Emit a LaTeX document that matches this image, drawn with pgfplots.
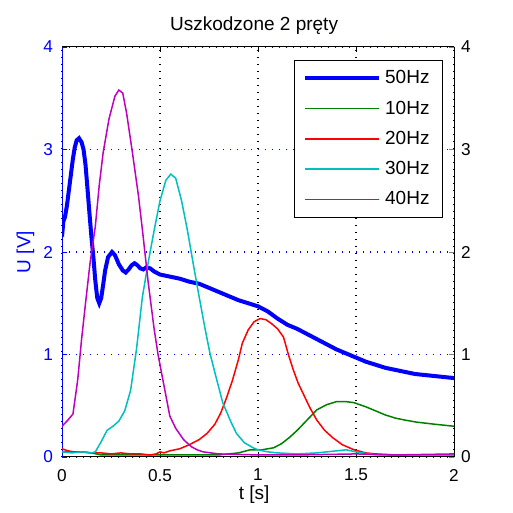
\documentclass[border=0pt]{standalone}
\usepackage{pgfplots}
\pgfplotsset{compat=1.18}
\usepackage{fontspec}
\setmainfont{Liberation Sans}
\definecolor{mgreen}{rgb}{0,0.5,0}
\definecolor{mcyan}{rgb}{0,0.75,0.75}
\definecolor{mmagenta}{rgb}{0.75,0,0.75}
\begin{document}
\begin{tikzpicture}
\begin{axis}[
  name=main, at={(0,0)}, anchor=south west,
  scale only axis, width=196pt, height=205pt,
  xmin=0, xmax=2, ymin=0, ymax=4,
  xtick={0,0.5,1,1.5,2}, ytick={0,1,2,3,4},
  xticklabels={0,0.5,1,1.5,2},
  axis x line*=box, axis y line*=left,
  tick align=inside,
  major tick length=2.5pt,
  axis line style={line width=0.5pt},
  y axis line style={blue},
  ytick style={blue},
  xtick style={black},
  /pgf/number format/assume math mode=true,
  ticklabel style={font=\fontsize{8.6}{10}\selectfont},
  yticklabel style={blue, xshift=-1pt},
  xticklabel style={yshift=-2.5pt},
  xmajorgrids, ymajorgrids,
  major x grid style={black, line width=0.6pt, dash pattern=on 0.6pt off 2.9pt},
  major y grid style={blue, line width=0.6pt, dash pattern=on 0.6pt off 2.9pt},
  title={Uszkodzone 2 pręty},
  title style={font=\fontsize{9.5}{11}\selectfont, at={(axis description cs:0.49,1)}, anchor=south, yshift=-3.5pt},
  xlabel={t [s]},
  ylabel={U [V]},
  xlabel style={font=\fontsize{9.5}{11}\selectfont, at={(axis description cs:0.49,-0.092)}, anchor=center},
  ylabel style={font=\fontsize{9.5}{11}\selectfont, blue, at={(axis description cs:-0.093,0.5)}, anchor=center, rotate=0},
  legend style={at={(rel axis cs:0.972,0.968)}, anchor=north east, draw=black, line width=0.5pt,
    font=\fontsize{9.5}{11}\selectfont, row sep=3pt, inner xsep=4.5pt, inner ysep=3pt},
  legend cell align=left,
  legend image code/.code={\draw[#1] (0pt,0.25pt) -- (37pt,0.25pt);},
]
\addplot[blue, line width=2pt] coordinates {
(0,2.15)(0.007,2.3)(0.015,2.34)(0.025,2.45)(0.035,2.6)(0.045,2.75)(0.055,2.9)(0.065,3.02)(0.075,3.09)(0.087,3.11)(0.1,3.07)(0.11,3.0)(0.12,2.85)(0.13,2.62)(0.14,2.38)(0.15,2.15)(0.16,1.95)(0.17,1.72)(0.18,1.55)(0.19,1.5)(0.2,1.55)(0.21,1.68)(0.22,1.82)(0.235,1.95)(0.255,2.0)(0.27,1.97)(0.29,1.88)(0.31,1.82)(0.325,1.8)(0.34,1.83)(0.355,1.87)(0.37,1.89)(0.385,1.87)(0.4,1.84)(0.415,1.83)(0.43,1.85)(0.45,1.84)(0.47,1.81)(0.5,1.78)(0.55,1.76)(0.6,1.74)(0.65,1.71)(0.7,1.69)(0.75,1.65)(0.8,1.61)(0.85,1.57)(0.9,1.53)(0.95,1.5)(1.0,1.47)(1.05,1.42)(1.1,1.35)(1.15,1.29)(1.2,1.25)(1.25,1.2)(1.3,1.15)(1.35,1.1)(1.4,1.05)(1.45,1.01)(1.5,0.97)(1.55,0.93)(1.6,0.9)(1.65,0.87)(1.7,0.85)(1.75,0.83)(1.8,0.81)(1.85,0.8)(1.9,0.79)(1.95,0.78)(2.0,0.77)
};
\addplot[mgreen, line width=0.75pt] coordinates {
(0,0.05)(0.05,0.05)(0.1,0.05)(0.15,0.04)(0.2,0.02)(0.4,0.02)(0.6,0.02)(0.8,0.02)(0.9,0.04)(0.96,0.07)(1.02,0.07)(1.08,0.09)(1.12,0.13)(1.16,0.19)(1.2,0.26)(1.25,0.36)(1.3,0.46)(1.35,0.51)(1.4,0.54)(1.45,0.54)(1.49,0.53)(1.55,0.49)(1.6,0.45)(1.65,0.41)(1.7,0.38)(1.75,0.36)(1.81,0.34)(1.9,0.32)(2.0,0.30)
};
\addplot[red, line width=0.75pt] coordinates {
(0,0.08)(0.03,0.06)(0.06,0.05)(0.1,0.05)(0.15,0.04)(0.2,0.04)(0.25,0.03)(0.3,0.04)(0.35,0.03)(0.4,0.03)(0.45,0.02)(0.48,0.03)(0.5,0.05)(0.52,0.04)(0.55,0.06)(0.6,0.08)(0.65,0.12)(0.7,0.17)(0.74,0.23)(0.78,0.32)(0.81,0.43)(0.84,0.58)(0.87,0.75)(0.9,0.95)(0.92,1.11)(0.95,1.24)(0.98,1.32)(1.01,1.35)(1.04,1.34)(1.07,1.3)(1.1,1.25)(1.13,1.17)(1.155,1.0)(1.18,0.85)(1.205,0.72)(1.23,0.62)(1.265,0.48)(1.3,0.36)(1.34,0.26)(1.38,0.19)(1.43,0.12)(1.49,0.07)(1.55,0.04)(1.6,0.03)(1.7,0.02)(2,0.02)
};
\addplot[mcyan, line width=0.75pt] coordinates {
(0,0.05)(0.05,0.04)(0.1,0.05)(0.15,0.04)(0.17,0.05)(0.2,0.15)(0.23,0.26)(0.26,0.3)(0.29,0.35)(0.32,0.45)(0.35,0.65)(0.38,1.05)(0.41,1.56)(0.44,1.9)(0.47,2.21)(0.5,2.5)(0.53,2.7)(0.555,2.76)(0.58,2.72)(0.61,2.5)(0.64,2.21)(0.67,1.88)(0.7,1.56)(0.73,1.25)(0.755,1.01)(0.79,0.75)(0.82,0.53)(0.86,0.35)(0.89,0.23)(0.93,0.14)(0.975,0.09)(1.0,0.07)(1.05,0.05)(1.1,0.04)(1.2,0.03)(1.3,0.04)(1.4,0.06)(1.45,0.07)(1.5,0.05)(1.6,0.02)(1.7,0.02)(2,0.02)
};
\addplot[mmagenta, line width=0.75pt] coordinates {
(0,0.3)(0.03,0.36)(0.056,0.42)(0.08,0.75)(0.1,1.15)(0.12,1.5)(0.143,1.89)(0.17,2.25)(0.19,2.65)(0.21,2.97)(0.24,3.3)(0.27,3.52)(0.29,3.58)(0.31,3.55)(0.33,3.35)(0.36,2.96)(0.39,2.55)(0.41,2.22)(0.44,1.7)(0.47,1.25)(0.49,1.0)(0.52,0.7)(0.55,0.4)(0.58,0.28)(0.62,0.17)(0.66,0.1)(0.69,0.07)(0.72,0.05)(0.8,0.03)(1.0,0.02)(1.2,0.02)(1.5,0.03)(1.7,0.02)(2,0.03)
};
\legend{50Hz,10Hz,20Hz,30Hz,40Hz}
\end{axis}
\begin{axis}[
  at={(0,0)}, anchor=south west,
  scale only axis, width=196pt, height=205pt,
  xmin=0, xmax=2, ymin=0, ymax=4,
  ytick={0,1,2,3,4},
  axis x line=none, axis y line*=right,
  tick align=inside,
  major tick length=2.5pt,
  axis line style={line width=0.5pt},
  /pgf/number format/assume math mode=true,
  ticklabel style={font=\fontsize{8.6}{10}\selectfont},
]
\end{axis}
\path (-31pt,-28pt) rectangle (225.5pt,228.5pt);
\end{tikzpicture}
\end{document}
